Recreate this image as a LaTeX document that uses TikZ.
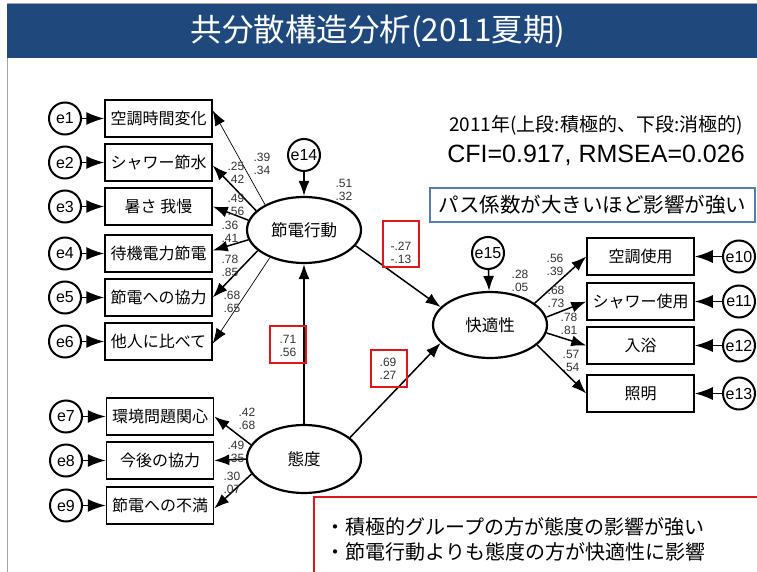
\documentclass[tikz,border=0pt]{standalone}
\usepackage{fontspec}
\setmainfont{Liberation Sans}
\newfontfamily\jp{Noto Sans CJK JP}
\usetikzlibrary{arrows.meta,shapes.geometric}
\definecolor{titleblue}{RGB}{31,73,125}
\definecolor{pathred}{RGB}{222,22,30}
\definecolor{noteblue}{RGB}{88,125,168}
\begin{document}
\begin{tikzpicture}[x=1pt,y=-1pt,
  obs/.style={draw, line width=1.5pt, minimum width=107pt, minimum height=37pt, inner sep=0pt, font=\jp\fontsize{16}{18}\selectfont},
  lat/.style={ellipse, draw, line width=2.2pt, minimum width=114pt, minimum height=66pt, inner sep=0pt, font=\jp\fontsize{16.5}{18}\selectfont},
  err/.style={circle, draw, line width=2pt, minimum size=32pt, inner sep=0pt, font=\fontsize{16}{17}\selectfont},
  coef/.style={font=\fontsize{12}{13.5}\selectfont, text=black!80, align=center, inner sep=0pt},
  pathbox/.style={draw=pathred, line width=1.7pt, minimum width=36pt, minimum height=37pt, inner sep=0pt},
  earr/.style={-{Latex[length=18pt,width=13pt]}, line width=1.6pt},
  parr/.style={-{Latex[length=15pt,width=11pt]}, line width=1.5pt},
  thinarr/.style={-{Latex[length=15pt,width=11pt]}, line width=0.7pt}]
\useasboundingbox (0,0) rectangle (757,572);
\fill[white] (0,0) rectangle (757,572);
% frame and title
\draw[black!35, line width=0.8pt] (7,572) -- (7,3) -- (757,3);
\fill[titleblue] (7,4) rectangle (757,58);
\node[text=white, font=\jp\fontsize{31.5}{34}\selectfont] (title) at (378,31) {共分散構造分析(2011夏期)};

% latent variables
\node[lat] (S) at (304,230) {節電行動};
\node[lat] (K) at (490,325) {快適性};
\node[lat, minimum height=68pt] (A) at (304,459) {態度};
\node[err] (e14) at (304,155) {e14};
\node[err] (e15) at (488,253) {e15};

% left observed (S)
\foreach \i/\y/\t in {1/118.5/空調時間変化, 2/162.5/シャワー節水, 3/206.5/暑さ 我慢, 4/253.5/待機電力節電, 5/297.5/節電への協力, 6/341.5/他人に比べて}{
  \node[obs] (b\i) at (158.5,\y) {\t};
  \node[err] (e\i) at (65,\y) {e\i};
  \draw[earr] (e\i) -- (b\i);
}
% left observed (A)
\foreach \i/\y/\t in {7/416.5/環境問題関心, 8/460.5/今後の協力, 9/505.5/節電への不満}{
  \node[obs] (b\i) at (160,\y) {\t};
  \node[err] (e\i) at (66,\y) {e\i};
  \draw[earr] (e\i) -- (b\i);
}
% right observed (K)
\foreach \i/\j/\y/\t in {1/10/256.5/空調使用, 2/11/301.5/シャワー使用, 3/12/345.5/入浴, 4/13/393.5/照明}{
  \node[obs] (r\i) at (640.5,\y) {\t};
  \node[err] (e\j) at (739,\y) {e\j};
  \draw[earr] (e\j) -- (r\i);
}

% S -> indicators
\draw[thinarr] (S.147) -- ([yshift=8pt]b1.east);
\draw[parr] (S.158) -- ([yshift=-3pt]b2.east);
\draw[parr] (S.170) -- (b3.east);
\draw[parr] (S.190) -- ([yshift=3pt]b4.east);
\draw[parr] (S.204) -- (b5.east);
\draw[thinarr] (S.219) -- ([yshift=-2pt]b6.east);
% A -> indicators
\draw[parr] (A.165) -- (b7.east);
\draw[parr] (A.180) -- (b8.east);
\draw[parr] (A.196) -- ([yshift=-3pt]b9.east);
% K -> indicators
\draw[parr] (K.26) -- (r1.west);
\draw[parr] (K.8) -- (r2.west);
\draw[parr] (K.-8) -- (r3.west);
\draw[parr] (K.-23) -- (r4.west);
% structural paths
\draw[parr] (e14) -- (S);
\draw[parr] (e15) -- (K);
\draw[parr] (A) -- (S);
\draw[parr] (S.-17) -- (K.160);
\draw[parr] (A.25) -- (K.200);

% coefficient labels
\node[coef] (c1) at (262,164) {.39\\.34};
\node[coef] (c2) at (236,173) {.25\\.42};
\node[coef] (c3) at (236,205) {.49\\.56};
\node[coef] (c4) at (230,232) {.36\\.41};
\node[coef] (c5) at (230,266) {.78\\.85};
\node[coef] (c6) at (232,302) {.68\\.65};
\node[coef] (c7) at (344,190) {.51\\.32};
\node[coef] (c8) at (520,281) {.28\\.05};
\node[coef] (c9) at (555,265) {.56\\.39};
\node[coef] (c10) at (556,297) {.68\\.73};
\node[coef] (c11) at (569,324) {.78\\.81};
\node[coef] (c12) at (571,361) {.57\\.54};
\node[coef] (c13) at (247,419) {.42\\.68};
\node[coef] (c14) at (236,452) {.49\\.35};
\node[coef] (c15) at (232,483) {.30\\.07};
% highlighted path coefficients
\node[pathbox, minimum height=46pt] (p1) at (401,244) {};
\node[coef] (c16) at (401,253) {-.27\\-.13};
\node[pathbox] (p2) at (288,344.5) {};
\node[coef] (c17) at (288,346) {.71\\.56};
\node[pathbox] (p3) at (389,368.5) {};
\node[coef] (c18) at (388,369) {.69\\.27};

% fit info
\node[font=\jp\fontsize{19}{22}\selectfont] (yr) at (596,125) {2011年(上段:積極的、下段:消極的)};
\node[font=\fontsize{25}{28}\selectfont] (fit) at (596,155) {CFI=0.917, RMSEA=0.026};
\node[draw=noteblue, line width=1.6pt, minimum width=325pt, minimum height=34pt, inner sep=0pt, font=\jp\fontsize{20.5}{24}\selectfont] (note) at (592.5,205) {パス係数が大きいほど影響が強い};

% bottom remarks
\draw[pathred, line width=2pt] (757,497) -- (314,497) -- (314,572);
\node[anchor=west, font=\jp\fontsize{20}{24}\selectfont] (m1) at (322,527) {・積極的グループの方が態度の影響が強い};
\node[anchor=west, font=\jp\fontsize{20}{24}\selectfont] (m2) at (322,552) {・節電行動よりも態度の方が快適性に影響};
\end{tikzpicture}
\end{document}
